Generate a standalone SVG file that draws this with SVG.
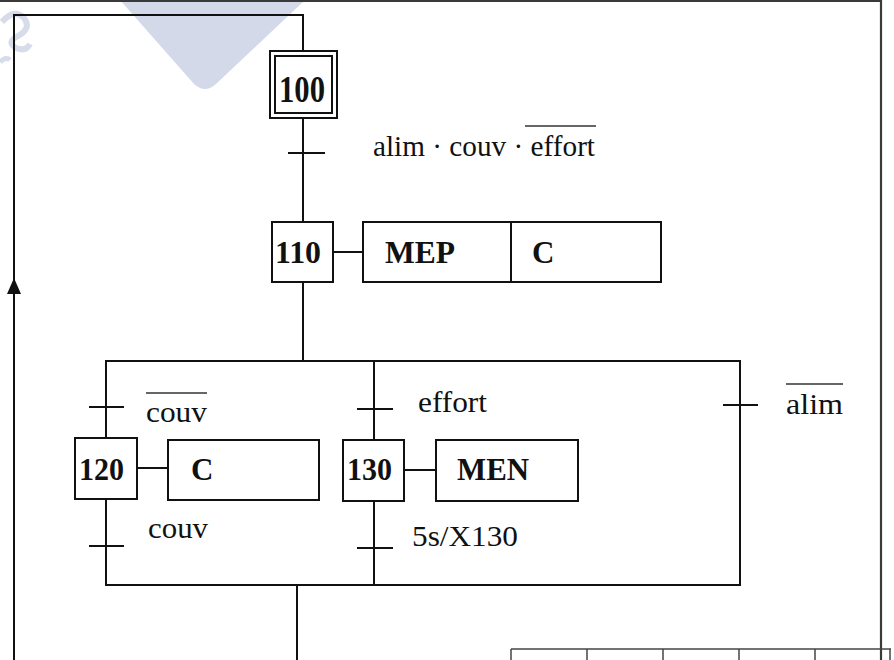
<svg xmlns="http://www.w3.org/2000/svg" width="894" height="660" viewBox="0 0 894 660">
<style>
.ln{stroke:#111;stroke-width:2;fill:none}
.bx{stroke:#111;stroke-width:2;fill:#fff}
.fr{stroke:#3a3a3a;stroke-width:2.2;fill:none}
.tb{stroke:#444;stroke-width:1.5;fill:none}
.num{font-family:"Liberation Serif","Times New Roman",serif;font-weight:bold;fill:#111}
.act{font-family:"Liberation Serif","Times New Roman",serif;font-weight:bold;font-size:31px;fill:#111}
.lab{font-family:"Liberation Serif","Times New Roman",serif;font-size:30px;fill:#111}
.ov{stroke:#333;stroke-width:1.6}
.wm{fill:#d3d9e8}
</style>
<rect width="894" height="660" fill="#fff"/>
<g id="watermark">
<path class="wm" d="M120,0 L305,0 L216,84 Q205,94 194,84 Z"/>
<path d="M2,22 Q14,8 24,18 Q32,28 18,36 Q6,42 16,48 Q26,52 30,44" stroke="#d6dcea" stroke-width="6" fill="none"/>
<path d="M0,62 Q6,56 10,60" stroke="#d6dcea" stroke-width="5" fill="none"/>
</g>
<g id="frame">
<line class="fr" x1="0" y1="1" x2="881" y2="1"/>
<line class="fr" x1="881" y1="0" x2="881" y2="660"/>
<line class="tb" x1="511" y1="649" x2="891" y2="649"/>
<line class="tb" x1="511" y1="649" x2="511" y2="660"/>
<line class="tb" x1="587" y1="649" x2="587" y2="660"/>
<line class="tb" x1="663" y1="649" x2="663" y2="660"/>
<line class="tb" x1="739" y1="649" x2="739" y2="660"/>
<line class="tb" x1="815" y1="649" x2="815" y2="660"/>
<line class="tb" x1="890" y1="649" x2="890" y2="660"/>
</g>
<g id="connectors">
<polyline class="ln" points="14,660 14,15 303,15 303,51"/>
<polygon points="14,278 7,294 21,294" fill="#111"/>
<line class="ln" x1="303" y1="118" x2="303" y2="222"/>
<line class="ln" x1="288" y1="153" x2="325" y2="153"/>
<line class="ln" x1="333" y1="252" x2="363" y2="252"/>
<line class="ln" x1="303" y1="282" x2="303" y2="361"/>
<line class="ln" x1="105" y1="361" x2="741" y2="361"/>
<line class="ln" x1="106" y1="361" x2="106" y2="438"/>
<line class="ln" x1="89" y1="407" x2="124" y2="407"/>
<line class="ln" x1="137" y1="468" x2="168" y2="468"/>
<line class="ln" x1="106" y1="499" x2="106" y2="585"/>
<line class="ln" x1="89" y1="546" x2="124" y2="546"/>
<line class="ln" x1="374" y1="361" x2="374" y2="440"/>
<line class="ln" x1="357" y1="409" x2="393" y2="409"/>
<line class="ln" x1="404" y1="470" x2="436" y2="470"/>
<line class="ln" x1="374" y1="501" x2="374" y2="585"/>
<line class="ln" x1="357" y1="548" x2="393" y2="548"/>
<line class="ln" x1="740" y1="361" x2="740" y2="585"/>
<line class="ln" x1="723" y1="405" x2="758" y2="405"/>
<line class="ln" x1="105" y1="585" x2="741" y2="585"/>
<line class="ln" x1="297" y1="585" x2="297" y2="660"/>
</g>
<g id="t100">
<text class="lab" x="373" y="156" textLength="222" lengthAdjust="spacingAndGlyphs">alim · couv · effort</text>
<line class="ov" x1="525" y1="126" x2="596" y2="126"/>
</g>
<g id="step100">
<rect class="bx" x="270" y="51" width="67" height="67"/>
<rect class="bx" x="275" y="56" width="57" height="57"/>
<text class="num" x="279" y="102" font-size="38" textLength="46" lengthAdjust="spacingAndGlyphs">100</text>
</g>
<g id="step110">
<rect class="bx" x="272" y="222" width="61" height="60"/>
<text class="num" x="275" y="263" font-size="32" textLength="46" lengthAdjust="spacingAndGlyphs">110</text>
</g>
<g id="action110">
<rect class="bx" x="363" y="222" width="298" height="60"/>
<line class="ln" x1="511" y1="222" x2="511" y2="282"/>
<text class="act" x="385" y="263" textLength="70" lengthAdjust="spacingAndGlyphs">MEP</text>
<text class="act" x="532" y="263">C</text>
</g>
<g id="t110a">
<text class="lab" x="146" y="422" textLength="61" lengthAdjust="spacingAndGlyphs">couv</text>
<line class="ov" x1="146" y1="393" x2="207" y2="393"/>
</g>
<g id="step120">
<rect class="bx" x="75" y="438" width="62" height="61"/>
<text class="num" x="79" y="480" font-size="32" textLength="45" lengthAdjust="spacingAndGlyphs">120</text>
</g>
<g id="action120">
<rect class="bx" x="168" y="440" width="151" height="60"/>
<text class="act" x="191" y="480">C</text>
</g>
<g id="t120">
<text class="lab" x="148" y="538" textLength="60" lengthAdjust="spacingAndGlyphs">couv</text>
</g>
<g id="t110b">
<text class="lab" x="418" y="412" textLength="69" lengthAdjust="spacingAndGlyphs">effort</text>
</g>
<g id="step130">
<rect class="bx" x="343" y="440" width="61" height="61"/>
<text class="num" x="347" y="480" font-size="32" textLength="45" lengthAdjust="spacingAndGlyphs">130</text>
</g>
<g id="action130">
<rect class="bx" x="436" y="440" width="142" height="61"/>
<text class="act" x="457" y="480" textLength="72" lengthAdjust="spacingAndGlyphs">MEN</text>
</g>
<g id="t130">
<text class="lab" x="412" y="546" textLength="106" lengthAdjust="spacingAndGlyphs">5s/X130</text>
</g>
<g id="t110c">
<text class="lab" x="786" y="414" textLength="57" lengthAdjust="spacingAndGlyphs">alim</text>
<line class="ov" x1="786" y1="384" x2="843" y2="384"/>
</g>
</svg>
